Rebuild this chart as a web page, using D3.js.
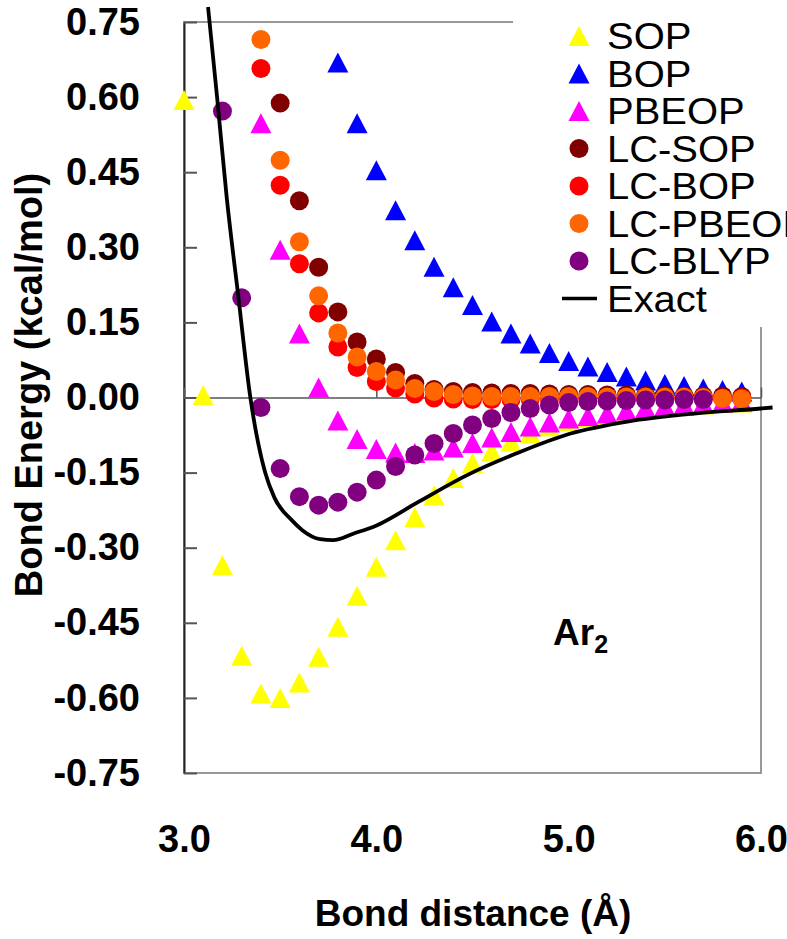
<!DOCTYPE html>
<html>
<head>
<meta charset="utf-8">
<script src="https://cdn.jsdelivr.net/npm/d3@7.9.0/dist/d3.min.js"></script>
<style>
  body { margin: 0; background: #fff; }
  svg { display: block; font-family: "Liberation Sans", Arial, sans-serif; }
</style>
</head>
<body>
<svg id="chart" width="787" height="939"></svg>
<script>
// bond distances (Å) used by the computed series
const dist = [3.0, 3.1, 3.2, 3.3, 3.4, 3.5, 3.6, 3.7, 3.8, 3.9,
              4.0, 4.1, 4.2, 4.3, 4.4, 4.5, 4.6, 4.7, 4.8, 4.9,
              5.0, 5.1, 5.2, 5.3, 5.4, 5.5, 5.6, 5.7, 5.8, 5.9];

const seriesNames = ['SOP', 'BOP', 'PBEOP', 'LC-SOP', 'LC-BOP', 'LC-PBEOP', 'LC-BLYP'];
const seriesStart = [3.0, 3.8, 3.4, 3.5, 3.4, 3.4, 3.2];

// bond energies (kcal/mol), one per distance from the series start
const sopEnergy = [0.594, 0.005, -0.335, -0.516, -0.591, -0.600, -0.569, -0.518, -0.458, -0.396,
                   -0.338, -0.285, -0.239, -0.195, -0.161, -0.131, -0.108, -0.088, -0.072, -0.058,
                   -0.047, -0.041, -0.035, -0.029, -0.024, -0.019, -0.016, -0.014, -0.011, -0.010];
const bopEnergy = [0.669, 0.548, 0.454, 0.374, 0.314, 0.261, 0.220, 0.185, 0.152, 0.128,
                   0.108, 0.089, 0.073, 0.062, 0.051, 0.042, 0.034, 0.027, 0.023, 0.018,
                   0.015, 0.012];
const pbeopEnergy = [0.548, 0.295, 0.128, 0.020, -0.046, -0.083, -0.103, -0.110, -0.111, -0.106,
                     -0.100, -0.091, -0.080, -0.069, -0.058, -0.050, -0.042, -0.037, -0.032, -0.026,
                     -0.021, -0.017, -0.014, -0.012, -0.010, -0.008];
const lcSopEnergy = [0.588, 0.393, 0.260, 0.171, 0.111, 0.077, 0.050, 0.028, 0.016, 0.012,
                     0.010, 0.009, 0.008, 0.008, 0.007, 0.006, 0.006, 0.005, 0.005, 0.004,
                     0.004, 0.003, 0.003, 0.003, 0.002];
const lcBopEnergy = [0.657, 0.424, 0.267, 0.169, 0.101, 0.060, 0.032, 0.019, 0.007, -0.001,
                     -0.003, -0.004, -0.004, -0.004, -0.003, -0.003, -0.003, -0.002, -0.002, -0.002,
                     -0.002, -0.001, -0.001, -0.001, -0.001, -0.001];
const lcPbeopEnergy = [0.715, 0.474, 0.311, 0.203, 0.129, 0.081, 0.052, 0.035, 0.018, 0.012,
                       0.006, 0.003, 0.002, 0.002, 0.002, 0.002, 0.002, 0.002, 0.001, 0.001,
                       0.001, 0.001, 0.001, 0.000, -0.002, -0.003];
const lcBlypEnergy = [0.572, 0.199, -0.020, -0.142, -0.198, -0.215, -0.209, -0.189, -0.165, -0.138,
                      -0.115, -0.092, -0.072, -0.055, -0.042, -0.030, -0.022, -0.015, -0.010, -0.008,
                      -0.007, -0.006, -0.005, -0.005, -0.004, -0.004];

// reference curve
const exactDist = [3.125, 3.172, 3.222, 3.283, 3.345, 3.422, 3.47, 3.56, 3.615, 3.708,
                   3.776, 3.88, 4.004, 4.212, 4.472, 4.733, 5.01, 5.305, 5.652, 6.0, 6.06];
const exactEnergy = [0.78, 0.60, 0.40, 0.20, 0.0, -0.15, -0.20, -0.245, -0.265, -0.283,
                     -0.285, -0.272, -0.255, -0.210, -0.155, -0.111, -0.072, -0.048, -0.032, -0.022, -0.020];

const xTicks = [3.0, 4.0, 5.0, 6.0];
const xTickLabels = ['3.0', '4.0', '5.0', '6.0'];
const yTicks = [0.75, 0.60, 0.45, 0.30, 0.15, 0.00, -0.15, -0.30, -0.45, -0.60, -0.75];
const yTickLabels = ['0.75', '0.60', '0.45', '0.30', '0.15', '0.00', '-0.15', '-0.30', '-0.45', '-0.60', '-0.75'];

const energies = [sopEnergy, bopEnergy, pbeopEnergy, lcSopEnergy, lcBopEnergy, lcPbeopEnergy, lcBlypEnergy];
const colors = ['#ffff00', '#0000ff', '#ff00ff', '#800000', '#ff0000', '#ff6600', '#800080'];
const shapes = ['tri', 'tri', 'tri', 'dot', 'dot', 'dot', 'dot'];

const series = seriesNames.map((name, i) => {
    const s = dist.indexOf(seriesStart[i]);
    return {
        name,
        color: colors[i],
        shape: shapes[i],
        points: energies[i].map((e, j) => ({ x: dist[s + j], y: e }))
    };
});

const svg = d3.select('#chart');
const x = d3.scaleLinear().domain([3.0, 6.0]).range([184, 761]);
const y = d3.scaleLinear().domain([-0.75, 0.75]).range([773, 22]);

const triPath = 'M0,-10L10.5,10L-10.5,10Z';

// plot frame
svg.append('rect')
    .attr('x', x(3.0)).attr('y', y(0.75))
    .attr('width', x(6.0) - x(3.0)).attr('height', y(-0.75) - y(0.75))
    .attr('fill', 'none').attr('stroke', '#999').attr('stroke-width', 2);

// left axis
const yAxis = d3.axisLeft(y)
    .tickValues(yTicks)
    .tickFormat((d, i) => yTickLabels[i])
    .tickSize(-13)
    .tickSizeOuter(0)
    .tickPadding(44);
const yg = svg.append('g').attr('transform', `translate(${x(3.0)},0)`).call(yAxis);
yg.select('.domain').attr('stroke', '#222').attr('stroke-width', 2);
yg.selectAll('.tick line').attr('stroke', '#555').attr('stroke-width', 2);
yg.selectAll('.tick text')
    .attr('font-size', 38).attr('font-weight', 'bold')
    .attr('font-family', '"Liberation Sans", Arial, sans-serif')
    .attr('fill', '#000');

// bottom labels
const xAxis = d3.axisBottom(x)
    .tickValues(xTicks)
    .tickFormat((d, i) => xTickLabels[i])
    .tickSize(0)
    .tickSizeOuter(0)
    .tickPadding(52);
const xg = svg.append('g').attr('transform', `translate(0,${y(-0.75)})`).call(xAxis);
xg.select('.domain').remove();
xg.selectAll('.tick text')
    .attr('font-size', 38).attr('font-weight', 'bold')
    .attr('font-family', '"Liberation Sans", Arial, sans-serif')
    .attr('fill', '#000');

// zero line with small ticks
const zeroAxis = d3.axisBottom(x)
    .tickValues(xTicks)
    .tickFormat('')
    .tickSize(-10)
    .tickSizeOuter(0);
const zg = svg.append('g').attr('transform', `translate(0,${y(0)})`).call(zeroAxis);
zg.select('.domain').attr('stroke', '#555').attr('stroke-width', 1.5);
zg.selectAll('.tick line').attr('stroke', '#555').attr('stroke-width', 1.5);

// markers
series.forEach(s => {
    const g = svg.append('g').attr('fill', s.color);
    if (s.shape === 'tri') {
        g.selectAll('path').data(s.points).join('path')
            .attr('d', triPath)
            .attr('transform', d => `translate(${x(d.x)},${y(d.y)})`);
    } else {
        g.selectAll('circle').data(s.points).join('circle')
            .attr('cx', d => x(d.x))
            .attr('cy', d => y(d.y))
            .attr('r', 9.5);
    }
});

// exact curve
const line = d3.line()
    .x((d, i) => x(exactDist[i]))
    .y(d => y(d))
    .curve(d3.curveMonotoneX);
svg.append('path')
    .attr('d', line(exactEnergy))
    .attr('fill', 'none')
    .attr('stroke', '#000')
    .attr('stroke-width', 3.8);

// legend
const legend = svg.append('g');
legend.append('rect')
    .attr('x', 513).attr('y', 0).attr('width', 274).attr('height', 327)
    .attr('fill', '#fff');
const legendItems = seriesNames.concat(['Exact']);
legendItems.forEach((name, i) => {
    const cy = 36 + i * 37.5;
    if (i < series.length) {
        if (shapes[i] === 'tri') {
            legend.append('path').attr('d', triPath)
                .attr('transform', `translate(579,${cy})`).attr('fill', colors[i]);
        } else {
            legend.append('circle').attr('cx', 579).attr('cy', cy).attr('r', 9.5).attr('fill', colors[i]);
        }
    } else {
        legend.append('line').attr('x1', 562).attr('x2', 597).attr('y1', cy).attr('y2', cy)
            .attr('stroke', '#000').attr('stroke-width', 3.5);
    }
    // text in the picture is a little wider than the font
    legend.append('text')
        .attr('transform', `translate(607,${cy + 13}) scale(1.08,1)`)
        .attr('font-size', 37)
        .text(name);
});

// molecule label
const mol = svg.append('text')
    .attr('x', 553).attr('y', 645)
    .attr('font-size', 37).attr('font-weight', 'bold');
mol.append('tspan').text('Ar');
mol.append('tspan').attr('font-size', 25).attr('dy', 8).text('2');

// axis titles
svg.append('text')
    .attr('x', 473).attr('y', 926)
    .attr('text-anchor', 'middle')
    .attr('font-size', 37).attr('font-weight', 'bold')
    .text('Bond distance (Å)');
svg.append('text')
    .attr('transform', 'translate(42,385) rotate(-90)')
    .attr('text-anchor', 'middle')
    .attr('font-size', 38).attr('font-weight', 'bold')
    .text('Bond Energy (kcal/mol)');
</script>
</body>
</html>
